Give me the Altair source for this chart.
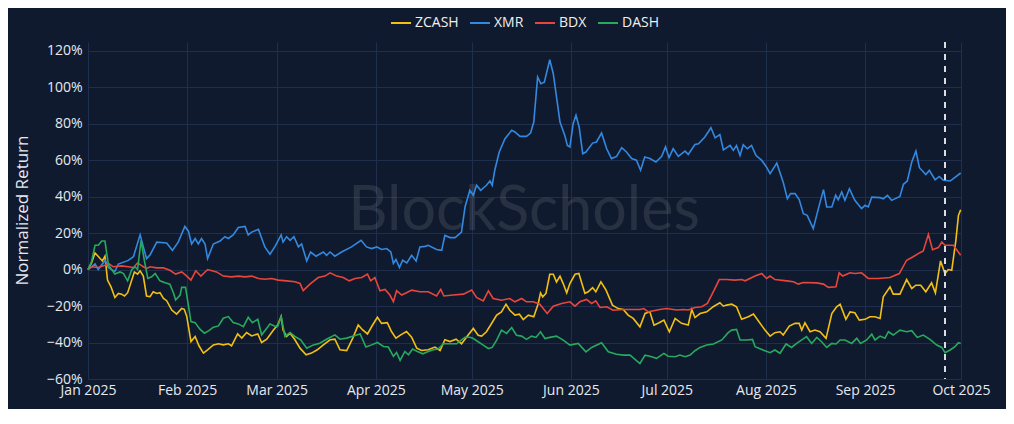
import altair as alt
import numpy as np
import pandas as pd

START = "2025-01-01"
SERIES = ["ZCASH", "XMR", "BDX", "DASH"]
COLORS = ["#f2c014", "#3388e0", "#e8463c", "#27a95e"]
MARKER_DATE = ["2025-09-26"]
Y_TICKS = [-60, -40, -20, 0, 20, 40, 60, 80, 100, 120]

# day offsets from Jan 1 2025, and normalized return in %
ZCASH_DAYS = [0, 1.1, 2.2, 3.8, 4.5, 5.3, 6.1, 7.2, 8.4, 9.5,
              10.5, 11.4, 12.4, 14.5, 15.5, 16.3, 17.3, 18.3, 19.4, 20.4,
              21.5, 22.5, 23.6, 24.6, 26.2, 27.7, 29.3, 30.1, 30.9, 32.2,
              33.5, 34.7, 36.1, 37.4, 39.2, 40.8, 42.3, 43.9, 44.9, 46.8,
              48.1, 49.6, 51.2, 53.1, 54.3, 55.9, 58, 59.3, 60.4, 61,
              62.1, 63.2, 64.7, 66.3, 68.2, 69.9, 71.7, 73.6, 75.7, 77.2,
              78.8, 80.9, 82.8, 84.5, 85.9, 87.4, 89, 90.5, 91.8, 93.6,
              94.9, 96.3, 97.8, 99.6, 101.2, 102.8, 104.3, 106.4, 108.5, 110.1,
              111.6, 113.2, 115.1, 116.8, 118.4, 120.5, 122, 123.1, 124.6, 126.2,
              127.8, 129.3, 130.7, 131.9, 133.5, 134.9, 136.1, 137.7, 139.4, 140.8,
              141.5, 142.2, 143.2, 144.4, 145.5, 146.5, 147.6, 148.6, 149.7, 150.7,
              152.3, 153.5, 155.4, 156.4, 157.8, 158.8, 160.4, 162, 164, 165.8,
              167.4, 168.9, 170.5, 172.6, 174.2, 175.7, 177, 178.6, 180.1, 181.8,
              183.6, 185.6, 187.7, 188.8, 189.8, 191.4, 193.5, 195.5, 197.6, 198.7,
              199.7, 201.3, 202.8, 204.4, 206.5, 208.1, 209.6, 211.7, 213.3, 214.8,
              216.4, 217.4, 219.3, 221.1, 222.4, 223.2, 224.2, 225.8, 227.3, 228.9,
              230.8, 232.6, 234.1, 235.2, 237, 238.3, 239.8, 241.2, 243, 244.5,
              246.1, 247.7, 248.7, 250.8, 251.8, 253.9, 256, 257.6, 258.9, 260.4,
              262, 263.8, 265, 266.6, 268, 269, 270.1, 271.4, 272.2, 272.9]
ZCASH_VALS = [0, 3.6, 9.1, 6, 4.7, 7.3, -5.8, -9.5, -15.3, -13.1,
              -13.5, -14.5, -12.7, -1.3, -2.5, -0.7, -3.6, -14.5, -14.9, -12.2,
              -13.1, -12.7, -15.8, -17.1, -22.2, -24.4, -21.3, -21.8, -25.8, -39.5,
              -36.7, -41.8, -45.8, -44, -41.3, -40.7, -41.3, -40.7, -41.8, -35.3,
              -37.6, -34.5, -36.4, -35.3, -40, -38.2, -33.1, -30.4, -25.8, -33.1,
              -36.7, -34.9, -38.5, -43.1, -46.7, -45.8, -44, -41.3, -38.5, -38.2,
              -44, -44.4, -37.6, -30.4, -33.1, -35.3, -30.4, -26.2, -29.5, -29.1,
              -34, -37.6, -35.8, -34, -37.1, -43.1, -44.4, -44, -42.5, -44.4,
              -38.5, -39.5, -38.2, -40.7, -37, -32.3, -36, -36.5, -34.1, -29.6,
              -25, -23.2, -19, -22.3, -25, -24.5, -27.4, -25, -25.9, -18.6,
              -12.8, -15, -13.1, -2.6, -2.6, -6.8, -3.7, -7.7, -12.8, -7.7,
              -2.6, -2.2, -13.1, -12.2, -9.9, -12.2, -6.8, -11.3, -19.5, -21.4,
              -21.9, -25, -26.8, -31.4, -24.1, -23.2, -30.5, -29.2, -27.7, -34.1,
              -26.8, -29.5, -30.4, -21.9, -26.3, -24.1, -23.2, -20.4, -18.2, -20.1,
              -19.5, -19, -20.4, -27.3, -25.9, -24.4, -28.1, -33.2, -36.5, -34.6,
              -34.1, -35.9, -31, -29.5, -29.5, -33.2, -29.2, -34.1, -33.2, -34.1,
              -37.7, -24.1, -20.4, -19, -27.3, -23.2, -23.7, -27.7, -27.3, -25.9,
              -25.9, -26.8, -14.9, -9.5, -13.5, -13.5, -5.5, -10.4, -8.6, -8.6,
              -12.2, -7.3, -12.8, 4.7, -2.2, 0, -0.4, 16, 29.7, 32.8]

XMR_DAYS = [0, 2.2, 3.2, 5.3, 6.4, 8.4, 9.5, 12.6, 14.2, 16.3,
            18.3, 19.4, 21.5, 24.6, 26.4, 28.2, 30.3, 31.4, 32.4, 33.5,
            34.5, 35.5, 36.6, 37.4, 39.2, 41.3, 42.8, 43.9, 45.4, 47,
            49.1, 50.1, 51.2, 53.3, 55.3, 56.9, 58.5, 60.4, 61, 62.1,
            63.2, 64.4, 65.8, 66.8, 68.4, 69.6, 71.3, 73.6, 74.6, 75.7,
            77.2, 79.3, 82.4, 85.4, 87.1, 88.7, 90.3, 91.8, 93.4, 94.7,
            95.5, 96.3, 97.4, 98.4, 99.7, 101.2, 102.6, 103.8, 105.4, 106.4,
            109, 110.6, 111.6, 113.2, 114.8, 116.8, 117.9, 119.4, 120.5, 121.5,
            122.8, 124.6, 125.7, 126.4, 127.2, 128.6, 130.4, 132.5, 133.5, 135.1,
            137.1, 138.4, 139.4, 140.6, 141.6, 142.7, 144.4, 145.5, 147.6, 149.1,
            149.9, 150.7, 151.7, 152.6, 153.6, 154.7, 155.7, 157.8, 159, 160.6,
            162.2, 163.7, 165.3, 166.9, 168.4, 170, 171.5, 172.8, 174.1, 175.7,
            177.6, 179.4, 180.6, 181.7, 183, 184.6, 186.7, 187.7, 189.8, 190.9,
            192.9, 194.8, 196.1, 197.6, 198.7, 200.8, 201.8, 202.8, 203.9, 204.9,
            206.2, 207.5, 208.9, 210.7, 212.2, 213.3, 215.4, 217.4, 218.7, 219.7,
            221.1, 222.4, 223.7, 224.9, 226.8, 228.4, 230, 231, 232.6, 233.8,
            234.6, 235.7, 236.7, 238.1, 239.8, 241.9, 243, 244, 245.1, 247.7,
            248.7, 250, 251.3, 253.9, 255, 256.2, 257.6, 258.9, 260, 262,
            263.1, 264.9, 266.2, 267.5, 269.6, 270.6, 272.9]
XMR_VALS = [0, 3, 0, 5, 1, -1, 3, 5, 7, 19,
            6, 8, 15, 14.5, 10.5, 15, 23.6, 21, 14, 17,
            14, 17, 14, 6, 14, 15.6, 18, 17, 19, 23,
            23.6, 19, 20.5, 22, 12.4, 8.4, 12.7, 19, 15, 18,
            16, 18, 12.4, 14, 4.7, 9.6, 7.3, 9.6, 7.8, 9.6,
            7.3, 9.6, 12.4, 16, 12.4, 11.5, 12.4, 11, 11.5, 9.6,
            3.3, 5.5, 1.1, 5.1, 3.6, 7.8, 4.7, 12.4, 12.7, 13.3,
            11, 10.5, 18.7, 17.5, 17.5, 20.5, 34.3, 43.4, 40.7, 46.2,
            43.4, 46.2, 48.5, 46.2, 54.4, 64.4, 71.7, 76.3, 75.4, 73,
            73, 74.8, 80.8, 105.5, 101.8, 102.7, 115, 107.3, 80.8, 73.5,
            68, 67.2, 79.9, 84.5, 78, 63.5, 64.4, 69.3, 69.9, 74.8,
            66.2, 60.8, 62, 66.8, 64.4, 60.8, 59.9, 54.4, 61.7, 60.8,
            58.9, 62, 67.2, 61.3, 66.2, 62, 64.9, 63.1, 68.5, 68.9,
            72.6, 77.7, 72.2, 74, 65.6, 68, 65.3, 68, 62.5, 68.4,
            66.2, 68, 62.5, 59.8, 56.1, 52.5, 58.3, 47.9, 38.8, 41.6,
            41.6, 38.3, 30.6, 29.7, 22.4, 33.4, 43.8, 34.3, 34.3, 40.7,
            38.3, 42.5, 37.9, 44.3, 37.9, 33.4, 35.2, 34.3, 39.7, 39.4,
            38.8, 40.7, 37.9, 40.1, 46.7, 48.5, 58.9, 64.9, 55.8, 52.1,
            54.3, 49.2, 51, 48.9, 48.5, 49.8, 52.9]

BDX_DAYS = [0, 1.1, 3.2, 5.3, 6.4, 7.9, 10.5, 12.6, 14.2, 15.5,
            17.3, 18.3, 19.4, 21.5, 23.6, 25.6, 27.4, 29.3, 30.9, 32.2,
            33.7, 35.3, 37.4, 40.2, 42.3, 44.9, 47, 49.1, 51.2, 53.3,
            55.3, 57.4, 59.5, 62.1, 64.7, 66.3, 67.3, 69.4, 72, 74.1,
            75.7, 77.8, 79.8, 81.7, 83.5, 85.6, 87.4, 88.4, 89.7, 91.3,
            92.9, 94.4, 95.5, 96.5, 98.1, 99.6, 101.2, 103.8, 106.4, 109,
            110.3, 111.3, 114.2, 117.4, 120, 121.5, 123.6, 125.2, 126.7, 129.3,
            131.9, 133.5, 135.6, 137.1, 139.2, 141.3, 143.6, 145.5, 148.1, 150.7,
            152.3, 153.8, 155.9, 157.5, 158.8, 160.1, 162.2, 164.2, 167.4, 169.5,
            172.6, 173.8, 175.2, 178.8, 180.9, 184.1, 186.2, 187.7, 189.8, 191.9,
            193.7, 195.8, 197.4, 199.7, 202.3, 204.4, 205.5, 208.6, 210.7, 212.2,
            213.3, 214.8, 218.5, 220.6, 222.1, 223.7, 227.9, 230, 231.5, 233.9,
            234.9, 236, 238.3, 239.8, 241.9, 244, 247.1, 250.8, 253.7, 256,
            257.9, 260, 261.2, 262.8, 264.1, 265.9, 267, 268, 270.6, 272.9]
BDX_VALS = [0, 1.5, 1.1, 2.4, 3.3, 1.5, 2, 1.5, 1.1, 3.6,
            1.5, 0.5, 1.5, 0.9, 0.9, -0.4, -2.5, -1.3, -3.6, -5.8,
            -0.7, -3.6, 0, -1.3, -3.6, -4, -3.6, -4, -3.6, -4.9,
            -5.3, -4.9, -5.8, -6.2, -6.7, -7.6, -11.6, -8, -4.4, -3.6,
            -1.8, -3.6, -4.4, -6.2, -4.9, -4.4, -2.5, -6.2, -4.4, -11.6,
            -10.9, -14, -17.6, -11.6, -14, -12.7, -11.3, -12.2, -12.2, -14.5,
            -10.9, -14.5, -14, -13.5, -11.3, -15.3, -17.2, -11.7, -15.9, -16.8,
            -15.9, -17.7, -15.9, -17.7, -17.7, -19, -24.1, -20.1, -18.6, -17.7,
            -20.1, -17.7, -16.4, -18.6, -17.2, -20.8, -20.4, -22.3, -21.9, -21.9,
            -21.9, -21.4, -23.2, -21.9, -21.4, -22.2, -21.9, -22.2, -20.8, -20.4,
            -18.6, -11.3, -5.5, -5.5, -5.8, -5.5, -6.2, -3.6, -2.2, -4.9,
            -3.6, -5.5, -6.2, -6.7, -8, -7.1, -7.3, -8, -9.8, -9.5,
            -1.8, -3.6, -1.8, -2.2, -1.8, -4.9, -4.9, -4.4, -2.2, 5.1,
            6.9, 9.1, 10.2, 19.3, 10.9, 12, 15.1, 13.3, 13.3, 7.8]

DASH_DAYS = [0, 1.1, 2.2, 3.2, 4.3, 5.3, 6.4, 7.4, 8.4, 10,
             11.1, 12.4, 13.7, 14.7, 15.5, 16.6, 17.6, 18.7, 19.9, 21,
             22.5, 24.1, 25.6, 26.7, 27.4, 28.8, 29.3, 30.5, 32.2, 33.5,
             35, 36.4, 37.8, 39.2, 40.8, 42.3, 43.9, 45.4, 47, 48.6,
             50.1, 51.4, 53.1, 54.3, 55.9, 56.9, 58.3, 59.3, 60.4, 61.6,
             63.2, 64.7, 66.5, 68.4, 70.5, 72.5, 74.6, 77.2, 78.8, 80.9,
             83, 85.1, 86.9, 88.7, 90.5, 92.4, 93.9, 95.5, 96.5, 97.6,
             99.1, 100.2, 101.5, 103, 104.7, 106.4, 108, 109.5, 111.1, 113.2,
             115.3, 116.8, 117.9, 119.5, 120.5, 122, 123.6, 125.2, 126.4, 127.8,
             129.3, 130.9, 132.5, 134, 135.6, 137.1, 138.7, 140.1, 141.5, 142.9,
             144.4, 146.5, 148.6, 150.7, 153.3, 155.7, 157.5, 160.6, 162.7, 165.3,
             167.4, 169.5, 172.6, 174.2, 175.7, 177.8, 180.1, 181.4, 183.6, 185.1,
             186.7, 188.3, 189.8, 191.4, 193.5, 195.6, 198.2, 200.2, 201.3, 202.8,
             203.9, 206, 207.8, 208.6, 210.7, 213.3, 214.8, 216.4, 218.3, 220,
             221.6, 223.2, 224.7, 226.3, 227.9, 229.4, 231, 232.6, 233.9, 235.2,
             236.7, 238.8, 240.4, 241.6, 243.5, 245.1, 246.1, 247.7, 249.2, 250.3,
             251.8, 253.9, 256, 257.6, 259.3, 261.2, 263.3, 265.4, 267, 268,
             269.6, 271.1, 272.2, 272.9]
DASH_VALS = [0, 4.2, 13.3, 13.3, 15.6, 15.6, 2.4, 0, -2.5, -1.3,
             -2.2, -6.2, 0, 1.5, 0, 16, 5.1, -4.9, -4, -2.2,
             -6.2, -7.3, -8, -12.7, -16.7, -14, -9.8, -9.8, -28.5, -29.1,
             -32.7, -34.9, -33.5, -31.6, -30.9, -26.7, -25.8, -29.1, -29.8, -31.3,
             -26.2, -29.1, -27.3, -35.8, -32.2, -29.8, -30.9, -31.3, -25.8, -36.7,
             -34.5, -36.7, -38.5, -43.1, -41.3, -40.4, -38.2, -35.8, -38.2, -37.6,
             -36.4, -35.3, -42.5, -41.3, -40, -42.2, -42.5, -47.6, -45.5, -49.8,
             -44.9, -46.7, -43.6, -44.9, -46.2, -44.9, -44, -43.6, -40.7, -40.7,
             -40.7, -38.5, -37.1, -37.1, -37.8, -39.6, -41.4, -43.3, -42.7, -38.7,
             -33.2, -35, -31.8, -36, -36.5, -38.3, -36.5, -37.2, -34.1, -37.8,
             -37.2, -36.5, -38.7, -41.4, -40.5, -45.1, -42.7, -40.1, -45.1, -46.4,
             -46.9, -46.9, -51.5, -46.9, -47.5, -48.7, -46, -47.5, -47.8, -46.9,
             -47.8, -46.9, -44.5, -42.7, -41.4, -40.8, -38.6, -34.6, -33.2, -32.8,
             -38.6, -38.6, -38.3, -42.3, -43.8, -45.6, -44.1, -45.9, -40.8, -42.7,
             -40.5, -38.6, -36.8, -40.5, -37.2, -39.6, -42.7, -40.5, -40.8, -38.6,
             -38.6, -40.5, -37.7, -40.5, -38.6, -35.4, -38.6, -36.5, -37.7, -34.1,
             -35.9, -33.2, -34.1, -33.5, -37.2, -35.9, -38.3, -41.4, -42.7, -45.6,
             -44.1, -42.3, -40.1, -40.5]

frames = []
for name, days, vals in [("ZCASH", ZCASH_DAYS, ZCASH_VALS), ("XMR", XMR_DAYS, XMR_VALS),
                         ("BDX", BDX_DAYS, BDX_VALS), ("DASH", DASH_DAYS, DASH_VALS)]:
    assert len(days) == len(vals), name
    t = pd.Timestamp(START) + pd.to_timedelta(np.array(days, dtype=float), unit="D")
    frames.append(pd.DataFrame({"date": t, "value": vals, "series": name}))
df = pd.concat(frames, ignore_index=True)

BG = "#101a2e"

x_domain = [alt.DateTime(year=2025, month=1, date=1), alt.DateTime(year=2025, month=10, date=1)]
x_ticks = [alt.DateTime(year=2025, month=m, date=1) for m in range(1, 11)]

x_enc = alt.X("date:T", scale=alt.Scale(domain=x_domain),
              axis=alt.Axis(format="%b %Y", values=x_ticks, title=None, labelPadding=4,
                            labelOverlap=False, labelFlush=False, labelBound=False))
y_enc = alt.Y("value:Q", scale=alt.Scale(domain=[-60, 124.7], nice=False, zero=False),
              axis=alt.Axis(values=Y_TICKS, labelExpr="format(datum.value, 'd') + '%'",
                            title="Normalized Return", labelPadding=6,
                            titleX=-66, titleY=168, titleAngle=270,
                            titleAlign="center", titleBaseline="middle"))

watermark = alt.Chart(pd.DataFrame({"t": ["BlockScholes"]})).mark_text(
    font="Lato", fontSize=61, color="#a0a0a0", opacity=0.17,
    align="center", baseline="middle"
).encode(text="t:N", x=alt.value(436), y=alt.value(170))

lines = alt.Chart(df).mark_line(strokeWidth=1.6, interpolate="linear").encode(
    x=x_enc, y=y_enc,
    color=alt.Color("series:N", scale=alt.Scale(domain=SERIES, range=COLORS),
                    legend=alt.Legend(title=None, orient="none", legendX=302, legendY=-30,
                                      direction="horizontal", symbolType="stroke",
                                      symbolSize=400, symbolStrokeWidth=2,
                                      labelColor="#f0f0f0", labelFontSize=14,
                                      labelFont="Open Sans", columnPadding=7,
                                      labelOffset=3)),
    order=alt.Order("date:T"),
)

rule = alt.Chart(pd.DataFrame({"date": MARKER_DATE})).mark_rule(
    strokeDash=[6, 6], strokeWidth=2, color="#d9dce3"
).encode(x="date:T")

chart = alt.layer(watermark, lines, rule).properties(
    width=873, height=337,
    autosize=alt.AutoSizeParams(type="none"),
    padding={"left": 80, "top": 34, "right": 45, "bottom": 30},
    background=BG,
    usermeta={"embedOptions": {"defaultStyle": "html, body { background: " + BG + "; }"}},
).configure_view(stroke=None).configure_axis(
    gridColor="#1e2e4c", gridWidth=1, domain=False, ticks=False,
    labelColor="#e6e9ef", labelFont="Open Sans", labelFontSize=14,
    titleColor="#e6e9ef", titleFont="Open Sans", titleFontSize=17, titleFontWeight="normal",
)

chart.save("out.html", embed_options={"renderer": "svg", "actions": False})
